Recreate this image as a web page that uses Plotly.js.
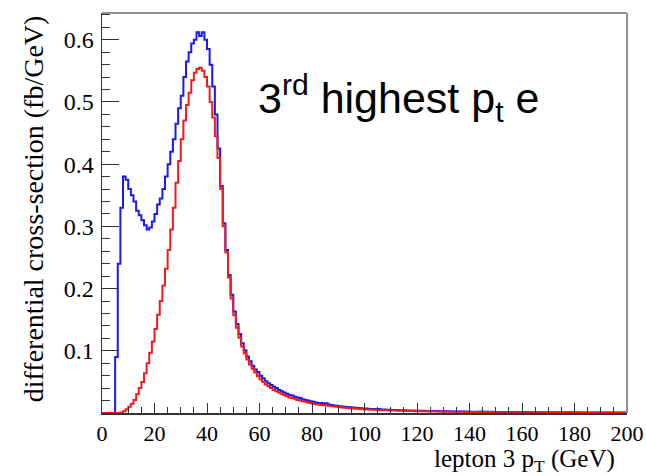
<!DOCTYPE html>
<html>
<head>
<meta charset="utf-8">
<script src="https://cdn.plot.ly/plotly-3.0.1.min.js"></script>
<style>html,body{margin:0;padding:0;background:#fff;}#chart{width:646px;height:476px;}</style>
</head>
<body>
<div id="chart"></div>
<script>
// Bin lower edges: 1 GeV bins from 0 to 200
var binWidth = 1;
// Blue histogram (all), bins 0..199
var blueValues = [
0,0,0,0,0,0.09,0.24,0.33,0.38,0.375,
0.36,0.35,0.34,0.325,0.318,0.31,0.302,0.295,0.298,0.308,
0.32,0.335,0.345,0.36,0.38,0.40,0.42,0.44,0.465,0.49,
0.51,0.54,0.565,0.58,0.594,0.60,0.612,0.606,0.612,0.60,
0.585,0.56,0.525,0.48,0.425,0.365,0.305,0.262,0.222,0.19,
0.163,0.143,0.127,0.112,0.101,0.091,0.083,0.076,0.070,0.066,
0.060,0.056,0.051,0.048,0.045,0.042,0.040,0.037,0.035,0.033,
0.031,0.029,0.028,0.026,0.025,0.024,0.022,0.021,0.020,0.019,
0.018,0.017,0.016,0.016,0.015,0.0155,0.0135,0.013,0.012,0.0115,
0.011,0.0105,0.010,0.0098,0.0092,0.0088,0.0084,0.008,0.0078,0.0074,
0.0072,0.0069,0.0066,0.0064,0.0062,0.0065,0.0058,0.0056,0.0054,0.0052,
0.005,0.0049,0.0047,0.0046,0.0044,0.0043,0.0042,0.004,0.0039,0.0038,
0.0037,0.0036,0.0035,0.0034,0.0033,0.0032,0.0031,0.0031,0.003,0.0029,
0.0028,0.0028,0.0027,0.0026,0.0026,0.0025,0.0025,0.0024,0.0023,0.0023,
0.0022,0.0022,0.0021,0.0021,0.0025,0.002,0.002,0.0019,0.0019,0.0018,
0.0018,0.0018,0.0017,0.0017,0.0017,0.0016,0.0016,0.0016,0.0015,0.0015,
0.0015,0.0015,0.0014,0.0014,0.0014,0.0014,0.0013,0.0013,0.0013,0.0013,
0.0013,0.0012,0.0012,0.0012,0.0012,0.0012,0.0011,0.0011,0.0011,0.0011,
0.0011,0.0011,0.001,0.001,0.001,0.001,0.001,0.001,0.001,0.001,
0.0009,0.0009,0.0009,0.0009,0.0009,0.0009,0.0009,0.0009,0.0009,0.0009
];
// Red histogram, bins 0..199
var redValues = [
0,0,0,0,0,0,0,0.001,0.003,0.006,
0.01,0.015,0.021,0.03,0.04,0.05,0.064,0.08,0.097,0.115,
0.135,0.158,0.18,0.205,0.232,0.262,0.295,0.33,0.37,0.405,
0.44,0.47,0.495,0.515,0.535,0.547,0.553,0.555,0.55,0.54,
0.525,0.50,0.475,0.445,0.41,0.36,0.30,0.258,0.218,0.184,
0.157,0.137,0.121,0.107,0.096,0.086,0.078,0.071,0.065,0.059,
0.054,0.050,0.046,0.043,0.040,0.037,0.035,0.033,0.031,0.029,
0.027,0.025,0.024,0.023,0.021,0.020,0.019,0.018,0.017,0.016,
0.015,0.014,0.0135,0.013,0.0125,0.012,0.0115,0.011,0.0105,0.010,
0.0095,0.009,0.0086,0.0082,0.0078,0.0074,0.007,0.0067,0.0064,0.0061,
0.0058,0.0056,0.0054,0.0052,0.005,0.0048,0.0046,0.0044,0.0043,0.0041,
0.004,0.0039,0.0037,0.0036,0.0035,0.0034,0.0033,0.0032,0.0031,0.003,
0.0029,0.0028,0.0028,0.0027,0.0026,0.0025,0.0025,0.0024,0.0023,0.0023,
0.0022,0.0022,0.0021,0.0021,0.002,0.002,0.0019,0.0019,0.0018,0.0018,
0.0018,0.0017,0.0017,0.0016,0.0016,0.0016,0.0015,0.0015,0.0015,0.0014,
0.0014,0.0014,0.0014,0.0013,0.0013,0.0013,0.0013,0.0012,0.0012,0.0012,
0.0012,0.0011,0.0011,0.0011,0.0011,0.0011,0.001,0.001,0.001,0.001,
0.001,0.001,0.0009,0.0009,0.0009,0.0009,0.0009,0.0009,0.0008,0.0008,
0.0008,0.0008,0.0008,0.0008,0.0008,0.0008,0.0007,0.0007,0.0007,0.0007,
0.0007,0.0007,0.0007,0.0007,0.0007,0.0007,0.0006,0.0006,0.0006,0.0006
];
var xTickVals = [0,20,40,60,80,100,120,140,160,180,200];
var yTickVals = [0.1,0.2,0.3,0.4,0.5,0.6];
var yTickText = ['0.1','0.2','0.3','0.4','0.5','0.6'];

function stepXY(vals){
  var xs=[], ys=[];
  for(var i=0;i<vals.length;i++){ xs.push(i*binWidth); ys.push(vals[i]); }
  xs.push(vals.length*binWidth); ys.push(vals[vals.length-1]);
  return {x:xs,y:ys};
}
var b = stepXY(blueValues), r = stepXY(redValues);

var traces = [
  {x:b.x, y:b.y, type:'scatter', mode:'lines', line:{shape:'hv', color:'#1a1af0', width:2}, hoverinfo:'skip'},
  {x:r.x, y:r.y, type:'scatter', mode:'lines', line:{shape:'hv', color:'#f01c1c', width:2}, hoverinfo:'skip'}
];

var serif = 'Liberation Serif, Times New Roman, serif';
var layout = {
  width:646, height:476,
  margin:{l:102, r:19, t:13, b:63},
  paper_bgcolor:'#fff', plot_bgcolor:'#fff',
  showlegend:false,
  xaxis:{
    range:[0,200], tickmode:'array', tickvals:xTickVals,
    ticks:'inside', ticklen:10, tickwidth:1, tickcolor:'#333',
    minor:{tickmode:'linear', tick0:0, dtick:5, ticks:'inside', ticklen:6, tickwidth:1, tickcolor:'#333'},
    showline:true, linecolor:'#333', linewidth:1.5, showgrid:false, zeroline:false,
    tickfont:{family:serif, size:22, color:'#000'}, ticklabelstandoff:0
  },
  yaxis:{
    range:[0,0.643], tickmode:'array', tickvals:yTickVals, ticktext:yTickText,
    ticks:'inside', ticklen:17, tickwidth:1, tickcolor:'#333',
    minor:{tickmode:'linear', tick0:0, dtick:0.02, ticks:'inside', ticklen:8, tickwidth:1, tickcolor:'#333'},
    showline:true, linecolor:'#333', linewidth:1.5, showgrid:false, zeroline:false,
    tickfont:{family:serif, size:24, color:'#000'}, ticklabelstandoff:2
  },
  shapes:[
    {type:'line', xref:'paper', yref:'paper', x0:0, x1:1, y0:1, y1:1, line:{color:'#909090', width:2}},
    {type:'line', xref:'paper', yref:'paper', x0:1, x1:1, y0:0, y1:1, line:{color:'#909090', width:2}}
  ],
  annotations:[
    {text:'3<sup>rd</sup> highest p<sub>t</sub> e', xref:'paper', yref:'paper', x:0.293, y:0.788,
     xanchor:'left', yanchor:'middle', showarrow:false,
     font:{family:'Liberation Sans, Arial, sans-serif', size:43, color:'#000'}},
    {text:'differential cross-section (fb/GeV)', xref:'paper', yref:'paper', x:-0.13, y:1.0,
     xanchor:'center', yanchor:'top', textangle:-90, showarrow:false,
     font:{family:serif, size:28, color:'#000'}},
    {text:'lepton 3 p<sub>T</sub> (GeV)', xref:'paper', yref:'paper', x:0.98, y:-0.118,
     xanchor:'right', yanchor:'middle', showarrow:false,
     font:{family:serif, size:25, color:'#000'}}
  ]
};
Plotly.newPlot('chart', traces, layout, {staticPlot:true, displayModeBar:false});
</script>
</body>
</html>
